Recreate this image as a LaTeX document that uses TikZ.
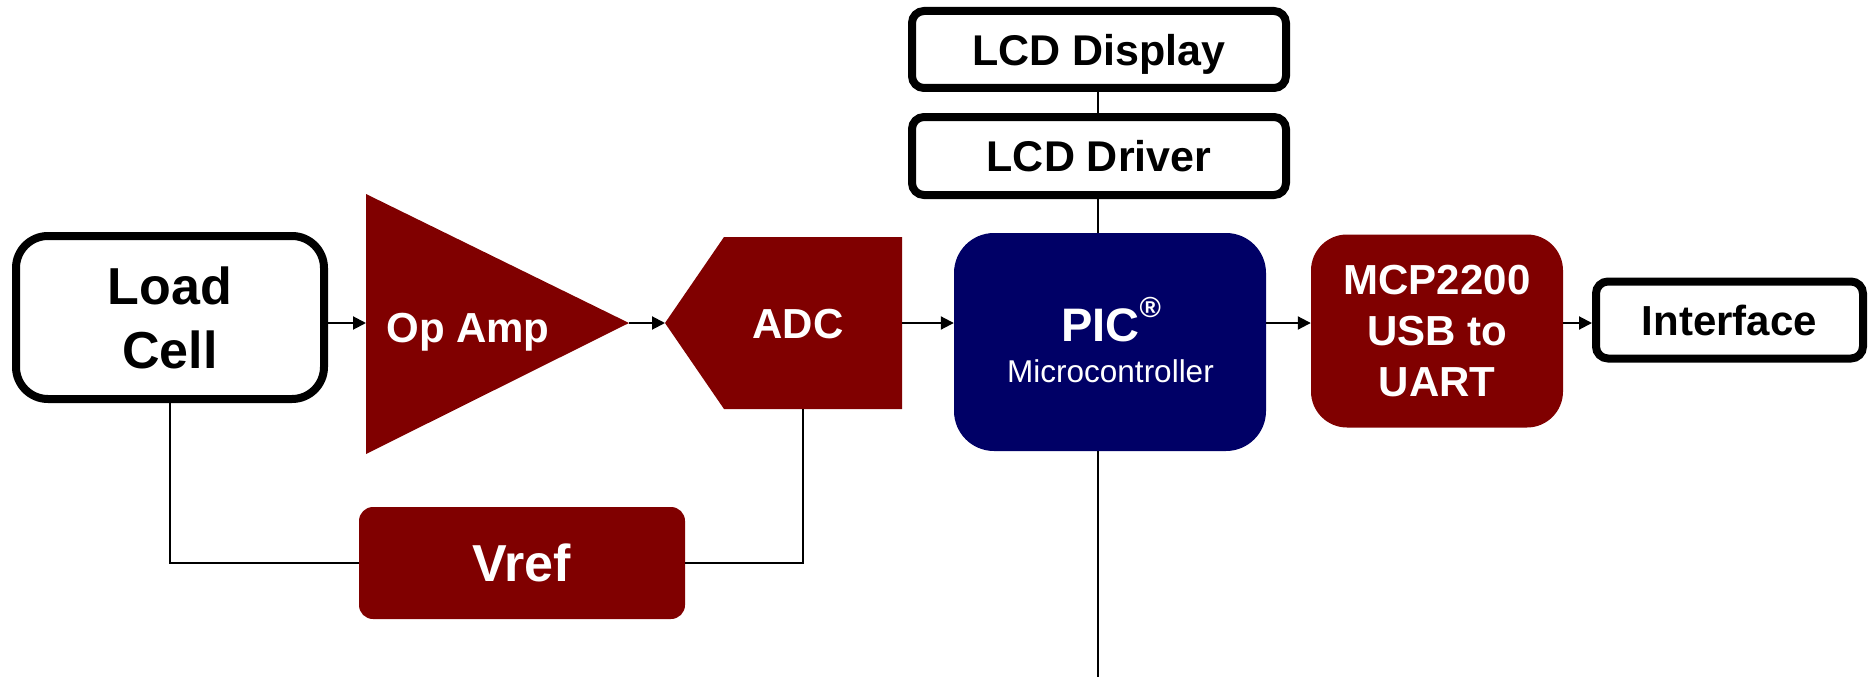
\documentclass[tikz,border=0pt]{standalone}
\usepackage{fontspec}
\setmainfont{Liberation Sans}
\usetikzlibrary{arrows.meta}
\definecolor{dred}{RGB}{128,0,0}
\definecolor{navyb}{RGB}{0,0,102}
\begin{document}
\begin{tikzpicture}[x=1pt,y=-1pt,
  wbox/.style={draw=black,line width=8pt,fill=white,rounded corners=12pt,inner sep=0pt,text depth=0pt,align=center,font=\bfseries\fontsize{42}{52}\selectfont},
  rbox/.style={fill=dred,text=white,inner sep=0pt,text depth=0pt,align=center,font=\bfseries\fontsize{42}{51}\selectfont},
  lbl/.style={text=white,inner sep=0pt,anchor=base,font=\bfseries\fontsize{42}{50}\selectfont},
  conn/.style={line width=2pt,draw=black},
  arr/.style={conn,-{Triangle[length=13pt,width=13pt]}}]
\useasboundingbox (0,0) rectangle (1872,677);
% Load Cell
\node[wbox,rounded corners=32pt,minimum width=308pt,minimum height=163pt,font=\bfseries\fontsize{52}{64}\selectfont] (lc) at (170,317.5) {Load\\Cell};
% Op Amp triangle
\fill[dred] (366,194) -- (366,454) -- (629,323) -- cycle;
\coordinate (opin) at (366,323);
\coordinate (opout) at (629,323);
\node[lbl] (opamp) at (468,342) {Op Amp};
% ADC pentagon
\fill[dred] (665,323) -- (724,237) -- (902,237) -- (902,409) -- (724,409) -- cycle;
\coordinate (adcin) at (665,323);
\coordinate (adcout) at (902,323);
\coordinate (adcbot) at (803,409);
\node[lbl] (adc) at (798,338.5) {ADC};
% PIC
\node[fill=navyb,rounded corners=40pt,minimum width=312pt,minimum height=218pt,inner sep=0pt] (pic) at (1110,342) {};
\node[lbl,font=\bfseries\fontsize{47}{50}\selectfont] (pictxt) at (1111,341) {PIC\raisebox{0.5em}{\fontsize{29}{29}\selectfont ®}};
\node[lbl,font=\fontsize{31.5}{36}\selectfont] (mctxt) at (1110.5,382) {Microcontroller};
% LCD boxes
\node[wbox,minimum width=374pt,minimum height=77pt,font=\bfseries\fontsize{43}{52}\selectfont] (lcdd) at (1099,49.5) {LCD Display};
\node[wbox,minimum width=374pt,minimum height=78pt,font=\bfseries\fontsize{43}{52}\selectfont] (lcdr) at (1099,156) {LCD Driver};
% MCP2200
\node[rbox,rounded corners=36pt,minimum width=252pt,minimum height=193pt] (mcp) at (1437,331) {MCP2200\\USB to\\UART};
% Interface
\node[wbox,minimum width=267pt,minimum height=77pt] (intf) at (1729.5,320) {Interface};
% Vref
\node[rbox,rounded corners=14pt,minimum width=326pt,minimum height=112pt,font=\bfseries\fontsize{52}{60}\selectfont] (vref) at (522,563) {Vref};
\coordinate (bot) at (1098,677);
% connectors
\draw[arr] (lc.east |- opin) -- (opin);
\draw[arr] (opout) -- (adcin);
\draw[arr] (adcout) -- (pic.west |- adcout);
\draw[arr] (pic.east |- adcout) -- (mcp.west |- adcout);
\draw[arr] (mcp.east |- adcout) -- (intf.west |- adcout);
\draw[conn] (lcdd.south -| bot) -- (lcdr.north -| bot);
\draw[conn] (lcdr.south -| bot) -- (pic.north -| bot);
\draw[conn] (pic.south -| bot) -- (bot);
\draw[conn] (lc.south) -- (lc.south |- vref.west) -- (vref.west);
\draw[conn] (vref.east) -- (vref.east -| adcbot) -- (adcbot);
\end{tikzpicture}
\end{document}
